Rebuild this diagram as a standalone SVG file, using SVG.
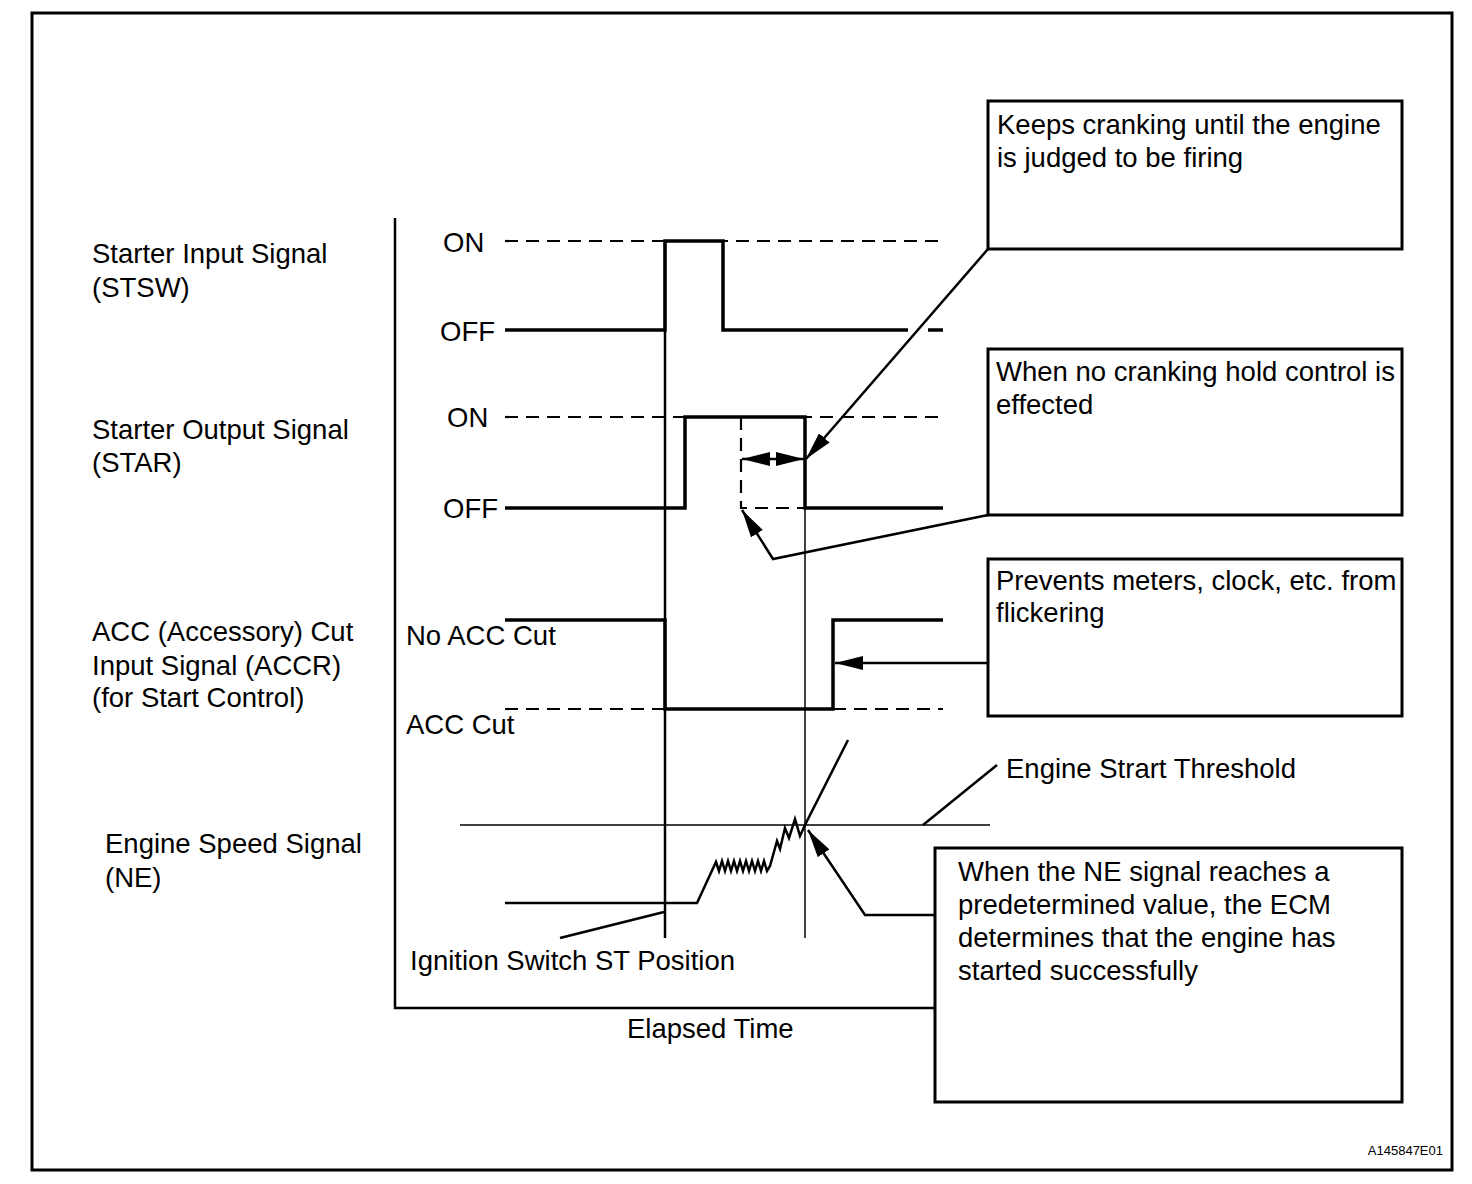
<svg xmlns="http://www.w3.org/2000/svg" width="1472" height="1184" viewBox="0 0 1472 1184">
<style>
text{font-family:"Liberation Sans",Arial,sans-serif;font-size:27.5px;fill:#000}
.sig{fill:none;stroke:#000;stroke-width:3.5}
.dash{fill:none;stroke:#000;stroke-width:2.2;stroke-dasharray:13 8}
.thin{fill:none;stroke:#000;stroke-width:1.5}
.mid{fill:none;stroke:#000;stroke-width:2.5}
.box{fill:#fff;stroke:#000;stroke-width:3}
</style>
<defs>
<marker id="ah" viewBox="0 0 28 14" refX="28" refY="7" markerWidth="28" markerHeight="14" markerUnits="userSpaceOnUse" orient="auto-start-reverse">
<path d="M0,0 L28,7 L0,14 z" fill="#000"/>
</marker>
</defs>
<rect x="32" y="13" width="1420" height="1157" fill="#fff" stroke="#000" stroke-width="3"/>
<g id="axes">
<polyline class="mid" points="395,218 395,1008 935,1008"/>
<text x="627" y="1038">Elapsed Time</text>
</g>
<g id="labels">
<text x="92" y="263">Starter Input Signal</text>
<text x="92" y="297">(STSW)</text>
<text x="92" y="439">Starter Output Signal</text>
<text x="92" y="472">(STAR)</text>
<text x="92" y="641">ACC (Accessory) Cut</text>
<text x="92" y="675">Input Signal (ACCR)</text>
<text x="92" y="707">(for Start Control)</text>
<text x="105" y="853">Engine Speed Signal</text>
<text x="105" y="887">(NE)</text>
</g>
<g id="stsw">
<text x="443" y="252">ON</text>
<text x="440" y="341">OFF</text>
<line class="dash" x1="505" y1="241" x2="943" y2="241"/>
<polyline class="sig" points="505,330 665,330 665,241 723,241 723,330 908,330"/>
<line class="sig" x1="928" y1="330" x2="943" y2="330"/>
</g>
<g id="star">
<text x="447" y="427">ON</text>
<text x="443" y="518">OFF</text>
<line class="dash" x1="505" y1="417" x2="943" y2="417"/>
<polyline class="sig" points="505,508 685,508 685,417 805,417 805,508 943,508"/>
<polyline class="dash" points="741,417 741,508 805,508"/>
</g>
<g id="accr">
<text x="406" y="645">No ACC Cut</text>
<text x="406" y="734">ACC Cut</text>
<polyline class="sig" points="505,620 665,620 665,709 833,709 833,620 943,620"/>
<line class="dash" x1="505" y1="709" x2="665" y2="709"/>
<line class="dash" x1="833" y1="709" x2="943" y2="709"/>
</g>
<g id="ne">
<line class="thin" x1="460" y1="825" x2="990" y2="825"/>
<polyline class="mid" points="505,903 697,903 716,862 719,871 722,861 725,871 728,861 731,871 734,861 737,871 740,861 743,871 746,861 749,871 752,861 755,871 758,861 761,871 764,861 767,871 770,866 777,841 780,849 785,828 789,838 795,819 800,836 805,825 848,740"/>
<text x="1006" y="778">Engine Strart Threshold</text>
<line class="mid" x1="923" y1="825" x2="997" y2="765"/>
<text x="410" y="970">Ignition Switch ST Position</text>
</g>
<g id="markers">
<line class="mid" x1="665" y1="241" x2="665" y2="938"/>
<line class="thin" x1="805" y1="417" x2="805" y2="938"/>
<line class="mid" x1="560" y1="938" x2="664" y2="912"/>
</g>
<g id="box1">
<rect class="box" x="988" y="101" width="414" height="148"/>
<text x="997" y="134">Keeps cranking until the engine</text>
<text x="997" y="167">is judged to be firing</text>
</g>
<g id="box2">
<rect class="box" x="988" y="349" width="414" height="166"/>
<text x="996" y="381">When no cranking hold control is</text>
<text x="996" y="414">effected</text>
</g>
<g id="box3">
<rect class="box" x="988" y="559" width="414" height="157"/>
<text x="996" y="590">Prevents meters, clock, etc. from</text>
<text x="996" y="622">flickering</text>
</g>
<g id="box4">
<rect class="box" x="935" y="848" width="467" height="254"/>
<text x="958" y="881">When the NE signal reaches a</text>
<text x="958" y="914">predetermined value, the ECM</text>
<text x="958" y="947">determines that the engine has</text>
<text x="958" y="980">started successfully</text>
</g>
<g id="connectors">
<line class="mid" x1="988" y1="249" x2="806" y2="459" marker-end="url(#ah)"/>
<line class="mid" x1="742" y1="459" x2="804" y2="459" marker-start="url(#ah)" marker-end="url(#ah)"/>
<polyline class="mid" points="988,515 773,559 742,510" marker-end="url(#ah)"/>
<line class="mid" x1="988" y1="663" x2="835" y2="663" marker-end="url(#ah)"/>
<polyline class="mid" points="935,915 865,915 808,830" marker-end="url(#ah)"/>
</g>
<text x="1443" y="1155" text-anchor="end" style="font-size:13px">A145847E01</text>
</svg>
